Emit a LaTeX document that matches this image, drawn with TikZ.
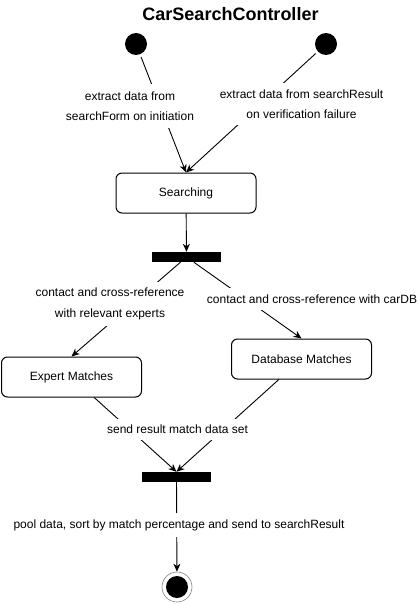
\documentclass[tikz,border=0pt]{standalone}
\usepackage{fontspec}
\setmainfont{Liberation Sans}
\usetikzlibrary{arrows.meta,calc}
\begin{document}
\begin{tikzpicture}[x=1pt,y=-1pt,
  every node/.style={font=\fontsize{12}{14}\selectfont},
  state/.style={draw, line width=1pt, rounded corners=6pt, minimum width=140pt, minimum height=40pt, inner sep=0pt},
  bar/.style={fill=black, draw=none, minimum width=69pt, minimum height=10pt, inner sep=0pt},
  startdot/.style={circle, fill=black, minimum size=22pt, inner sep=0pt, outer sep=3pt},
  lbl/.style={fill=white, inner xsep=2pt, align=center, font=\fontsize{12}{20.5}\selectfont},
  flow/.style={line width=0.9pt, -{Stealth[length=8pt,width=7pt,inset=2.5pt]}}]
\useasboundingbox (0,0) rectangle (419,604);
\node[font=\fontsize{18}{20}\selectfont\bfseries] (title) at (230.5,14) {CarSearchController};
\node[startdot] (s1) at (136,44) {};
\node[startdot] (s2) at (326,44) {};
\node[state] (search) at (186,193) {Searching};
\node[bar] (fork) at (186.5,257) {};
\node[state] (expert) at (71.5,377) {Expert Matches};
\node[state] (db) at (301.5,359) {Database Matches};
\node[bar] (join) at (176.5,477) {};
\node[circle, draw=gray, line width=0.6pt, minimum size=30pt, inner sep=0pt] (end) at (177,587) {};
\node[circle, fill=black, minimum size=22pt, inner sep=0pt] (endin) at (end.center) {};
\draw[flow] (s1) -- (search.north);
\draw[flow] (s2) -- (search.north);
\draw[flow] (search) -- (fork);
\draw[flow] (fork) -- (expert.north);
\draw[flow] (fork) -- (db.north);
\draw[flow] (expert) -- (join.north);
\draw[flow] (db) -- (join.north);
\draw[flow] (join) -- (end);
\node[lbl, minimum height=44pt] (l1) at (130,106) {extract data from\\searchForm on initiation};
\node[lbl, minimum height=42pt] (l2) at (301.5,104) {extract data from searchResult\\on verification failure};
\node[lbl, minimum height=44pt] (l3) at (110,304) {contact and cross-reference\\with relevant experts};
\node[lbl, minimum height=22pt] (l4) at (312,299) {contact and cross-reference with carDB};
\node[lbl, minimum height=21pt] (l5) at (177.5,429) {send result match data set};
\node[lbl, minimum height=24pt] (l6) at (179,525) {pool data, sort by match percentage and send to searchResult};
\end{tikzpicture}
\end{document}
